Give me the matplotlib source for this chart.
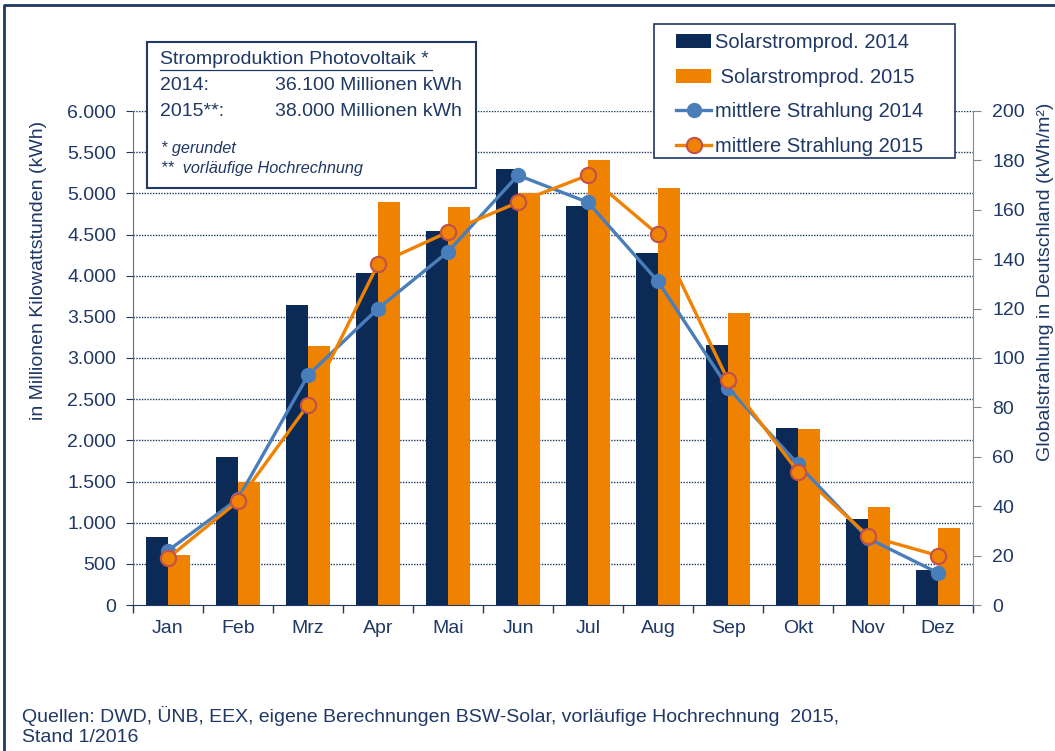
import matplotlib
matplotlib.use("Agg")
import matplotlib.pyplot as plt
from matplotlib.patches import Rectangle
import numpy as np

plt.rcParams['font.family'] = ['Liberation Sans', 'DejaVu Sans']

months = ["Jan", "Feb", "Mrz", "Apr", "Mai", "Jun", "Jul", "Aug", "Sep", "Okt", "Nov", "Dez"]
prod_2014 = [820, 1800, 3640, 4030, 4540, 5300, 4850, 4280, 3160, 2150, 1050, 420]
prod_2015 = [610, 1500, 3150, 4890, 4840, 5000, 5410, 5060, 3550, 2140, 1190, 940]
rad_2014 = [22, 43, 93, 120, 143, 174, 163, 131, 88, 57, 27, 13]
rad_2015 = [19, 42, 81, 138, 151, 163, 174, 150, 91, 54, 28, 20]
left_ticks = [0, 500, 1000, 1500, 2000, 2500, 3000, 3500, 4000, 4500, 5000, 5500, 6000]
left_ticklabels = ["0", "500", "1.000", "1.500", "2.000", "2.500", "3.000", "3.500",
                   "4.000", "4.500", "5.000", "5.500", "6.000"]
right_ticks = [0, 20, 40, 60, 80, 100, 120, 140, 160, 180, 200]

NAVY = "#0B2A56"
ORANGE = "#EF8200"
BLUE = "#4A7EBB"
TXT = "#1F3864"
MEDGE = "#C0504D"

W, H = 1055, 751
fig = plt.figure(figsize=(W / 100, H / 100), dpi=100)

def fx(px):
    return px / W

def fy(py):
    return 1 - py / H

TICK_FS = 14
ax = fig.add_axes([fx(133), fy(605), fx(973) - fx(133), fy(111) - fy(605)])
x = np.arange(len(months))
bw = 0.32
ax.bar(x - bw / 2, prod_2014, bw, color=NAVY, zorder=2, label="Solarstromprod. 2014")
ax.bar(x + bw / 2, prod_2015, bw, color=ORANGE, zorder=2, label=" Solarstromprod. 2015")
ax.set_xlim(-0.5, 11.5)
ax.set_ylim(0, 6000)
ax.set_yticks(left_ticks)
ax.set_yticklabels(left_ticklabels)
ax.set_xticks(x)
ax.set_xticklabels(months)
ax.set_xticks(np.arange(-0.5, 12, 1), minor=True)
ax.tick_params(axis='x', which='major', length=0, pad=11, labelsize=TICK_FS, labelcolor=TXT)
ax.tick_params(axis='x', which='minor', length=6, color=TXT, width=1)
ax.tick_params(axis='y', length=5, color=TXT, labelsize=TICK_FS, labelcolor=TXT, pad=7)
for yv in left_ticks[1:]:
    ax.axhline(yv, color=TXT, lw=1.0, ls=(0, (1, 1)), zorder=1)
ax.spines['top'].set_visible(False)
ax.spines['right'].set_visible(False)
ax.spines['left'].set_color("#5A7294")
ax.spines['bottom'].set_color(TXT)

ax2 = ax.twinx()
ax2.set_ylim(0, 200)
ax2.set_yticks(right_ticks)
ax2.tick_params(axis='y', length=6, color="#888888", labelsize=TICK_FS, labelcolor=TXT, pad=8)
for s in ['top', 'left', 'bottom']:
    ax2.spines[s].set_visible(False)
ax2.spines['right'].set_color("#888888")
l1, = ax2.plot(x, rad_2014, color=BLUE, lw=2.4, marker='o', ms=10, mfc=BLUE, mec=BLUE,
               zorder=3, label="mittlere Strahlung 2014")
l2, = ax2.plot(x, rad_2015, color=ORANGE, lw=2.4, marker='o', ms=11, mfc=ORANGE, mec=MEDGE,
               mew=1.5, zorder=4, label="mittlere Strahlung 2015")

fig.text(fx(39), fy(270), "in Millionen Kilowattstunden (kWh)", rotation=90, ha='center',
         va='center', fontsize=14, color=TXT)
fig.text(fx(1046), fy(282), "Globalstrahlung in Deutschland (kWh/m²)", rotation=90,
         ha='center', va='center', fontsize=14, color=TXT)

# legend (frame drawn separately)
fig.add_artist(Rectangle((fx(654), fy(158)), fx(955) - fx(654), fy(24) - fy(158),
                         transform=fig.transFigure, facecolor='white', edgecolor=TXT,
                         lw=1.2, zorder=5))
h1, lab1 = ax.get_legend_handles_labels()
leg = fig.legend(h1 + [l1, l2], lab1 + [l1.get_label(), l2.get_label()],
                 loc='upper left', bbox_to_anchor=(fx(676), fy(33)),
                 bbox_transform=fig.transFigure, fontsize=14.5, frameon=False,
                 labelspacing=0.78, handlelength=1.75, handletextpad=0.2, borderpad=0,
                 borderaxespad=0)
leg.set_zorder(6)
for t in leg.get_texts():
    t.set_color(TXT)

# info box
fig.add_artist(Rectangle((fx(147), fy(188)), fx(476) - fx(147), fy(42) - fy(188),
                         transform=fig.transFigure, facecolor='white', edgecolor=TXT,
                         lw=1.5, zorder=5))
fs = 14
fig.text(fx(160), fy(59), "Stromproduktion Photovoltaik *", fontsize=fs, color=TXT,
         va='center', zorder=6)
fig.add_artist(plt.Line2D([fx(160), fx(432)], [fy(70), fy(70)], transform=fig.transFigure,
                          color=TXT, lw=0.9, zorder=6))
fig.text(fx(160), fy(86), "2014:", fontsize=fs, color=TXT, va='center', zorder=6)
fig.text(fx(275), fy(86), "36.100 Millionen kWh", fontsize=fs, color=TXT, va='center', zorder=6)
fig.text(fx(160), fy(112), "2015**:", fontsize=fs, color=TXT, va='center', zorder=6)
fig.text(fx(275), fy(112), "38.000 Millionen kWh", fontsize=fs, color=TXT, va='center', zorder=6)
fig.text(fx(161), fy(149), "* gerundet", fontsize=11.7, style='italic', color=TXT,
         va='center', zorder=6)
fig.text(fx(161), fy(169), "**  vorläufige Hochrechnung", fontsize=11.7, style='italic',
         color=TXT, va='center', zorder=6)

# footer
fig.text(fx(22), fy(716), "Quellen: DWD, ÜNB, EEX, eigene Berechnungen BSW-Solar, vorläufige Hochrechnung  2015,",
         fontsize=14, color=TXT, va='center')
fig.text(fx(22), fy(737), "Stand 1/2016", fontsize=14, color=TXT, va='center')

# outer frame
fig.add_artist(plt.Line2D([fx(4), fx(4), fx(1055)], [fy(751), fy(5), fy(5)],
                          transform=fig.transFigure, color=TXT, lw=2))

fig.savefig("out.png", dpi=100)
